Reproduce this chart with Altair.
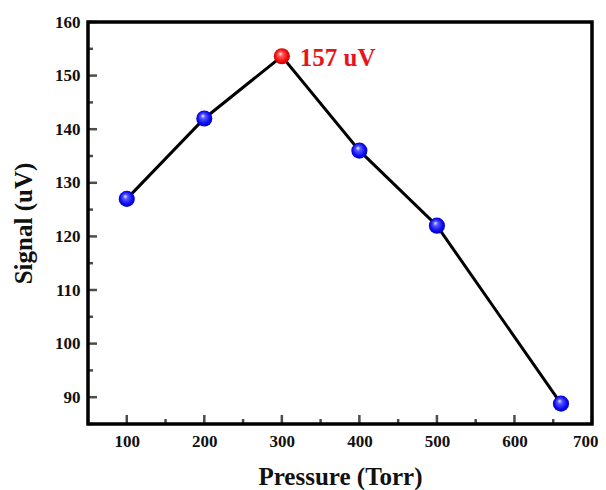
import altair as alt
import pandas as pd

pressure = [100, 200, 300, 400, 500, 660]
signal = [127, 142, 153.6, 136, 122, 88.8]
highlight = [False, False, True, False, False, False]
peak_label = "157 uV"

x_major = [100, 200, 300, 400, 500, 600, 700]
x_minor = [50, 150, 250, 350, 450, 550, 650]
y_major = [90, 100, 110, 120, 130, 140, 150, 160]
y_minor = [85, 95, 105, 115, 125, 135, 145, 155]

df = pd.DataFrame({"p": pressure, "s": signal, "hl": highlight})
df_peak = df[df.hl].assign(label=peak_label)
df_xmaj = pd.DataFrame({"v": x_major})
df_xmin = pd.DataFrame({"v": x_minor})
df_ymaj = pd.DataFrame({"v": y_major})
df_ymin = pd.DataFrame({"v": y_minor})

FONT = "Liberation Serif"

xs = alt.Scale(domain=[50, 700], nice=False, zero=False)
ys = alt.Scale(domain=[85, 160], nice=False, zero=False)

xaxis = alt.Axis(values=x_major, title="Pressure (Torr)", ticks=False, domain=False, grid=False,
                 labelFlush=True, labelFlushOffset=6,
                 labelFont=FONT, labelFontSize=17, labelFontWeight="bold",
                 labelColor="#111", labelPadding=9,
                 titleFont=FONT, titleFontSize=25, titleFontWeight="bold",
                 titleColor="#111", titleY=60, titleBaseline="alphabetic")
yaxis = alt.Axis(values=y_major, title="Signal (uV)", ticks=False, domain=False, grid=False,
                 labelFlush=False, labelFont=FONT, labelFontSize=17, labelFontWeight="bold",
                 labelColor="#111", labelPadding=8,
                 titleFont=FONT, titleFontSize=25, titleFontWeight="bold",
                 titleColor="#111", titleX=-65, titleBaseline="middle")

line = alt.Chart(df).mark_line(color="black", strokeWidth=3).encode(
    x=alt.X("p:Q", scale=xs, axis=xaxis),
    y=alt.Y("s:Q", scale=ys, axis=yaxis),
)

blue_grad = {"gradient": "radial", "x1": 0.4, "y1": 0.33, "r1": 0.0,
             "x2": 0.5, "y2": 0.5, "r2": 0.55,
             "stops": [{"offset": 0, "color": "#ffffff"},
                       {"offset": 0.25, "color": "#5a5aff"},
                       {"offset": 0.7, "color": "#0a0af0"},
                       {"offset": 1, "color": "#0000b0"}]}
red_grad = {"gradient": "radial", "x1": 0.4, "y1": 0.33, "r1": 0.0,
            "x2": 0.5, "y2": 0.5, "r2": 0.55,
            "stops": [{"offset": 0, "color": "#ffffff"},
                      {"offset": 0.25, "color": "#ff5a5a"},
                      {"offset": 0.7, "color": "#f00a0a"},
                      {"offset": 1, "color": "#b00000"}]}

blue_pts = alt.Chart(df[~df.hl]).mark_circle(size=260, opacity=1, fill=blue_grad).encode(
    x="p:Q", y="s:Q")
red_pts = alt.Chart(df_peak).mark_circle(size=260, opacity=1, fill=red_grad).encode(
    x="p:Q", y="s:Q")
label = alt.Chart(df_peak).mark_text(align="left", baseline="middle", dx=18, dy=2,
                                     font=FONT, fontSize=25, fontWeight="bold",
                                     color="#e8141c").encode(
    x="p:Q", y="s:Q", text="label:N")

xmaj = alt.Chart(df_xmaj).mark_tick(orient="vertical", size=9, thickness=2.5, color="black",
                                    yOffset=-4.5).encode(x="v:Q", y=alt.datum(85))
xmin = alt.Chart(df_xmin).mark_tick(orient="vertical", size=5, thickness=2.5, color="black",
                                    yOffset=-2.5).encode(x="v:Q", y=alt.datum(85))
ymaj = alt.Chart(df_ymaj).mark_tick(orient="horizontal", size=9, thickness=2.5, color="black",
                                    xOffset=4.5).encode(y="v:Q", x=alt.datum(50))
ymin = alt.Chart(df_ymin).mark_tick(orient="horizontal", size=5, thickness=2.5, color="black",
                                    xOffset=2.5).encode(y="v:Q", x=alt.datum(50))

chart = alt.layer(line, xmaj, xmin, ymaj, ymin, blue_pts, red_pts, label).properties(
    width=504, height=402,
    autosize=alt.AutoSizeParams(type="none"),
    padding={"left": 80, "top": 14, "right": 6, "bottom": 66},
    background="white",
).configure_view(stroke="black", strokeWidth=3.5)

chart.save("out.html", embed_options={"renderer": "svg", "actions": False})
